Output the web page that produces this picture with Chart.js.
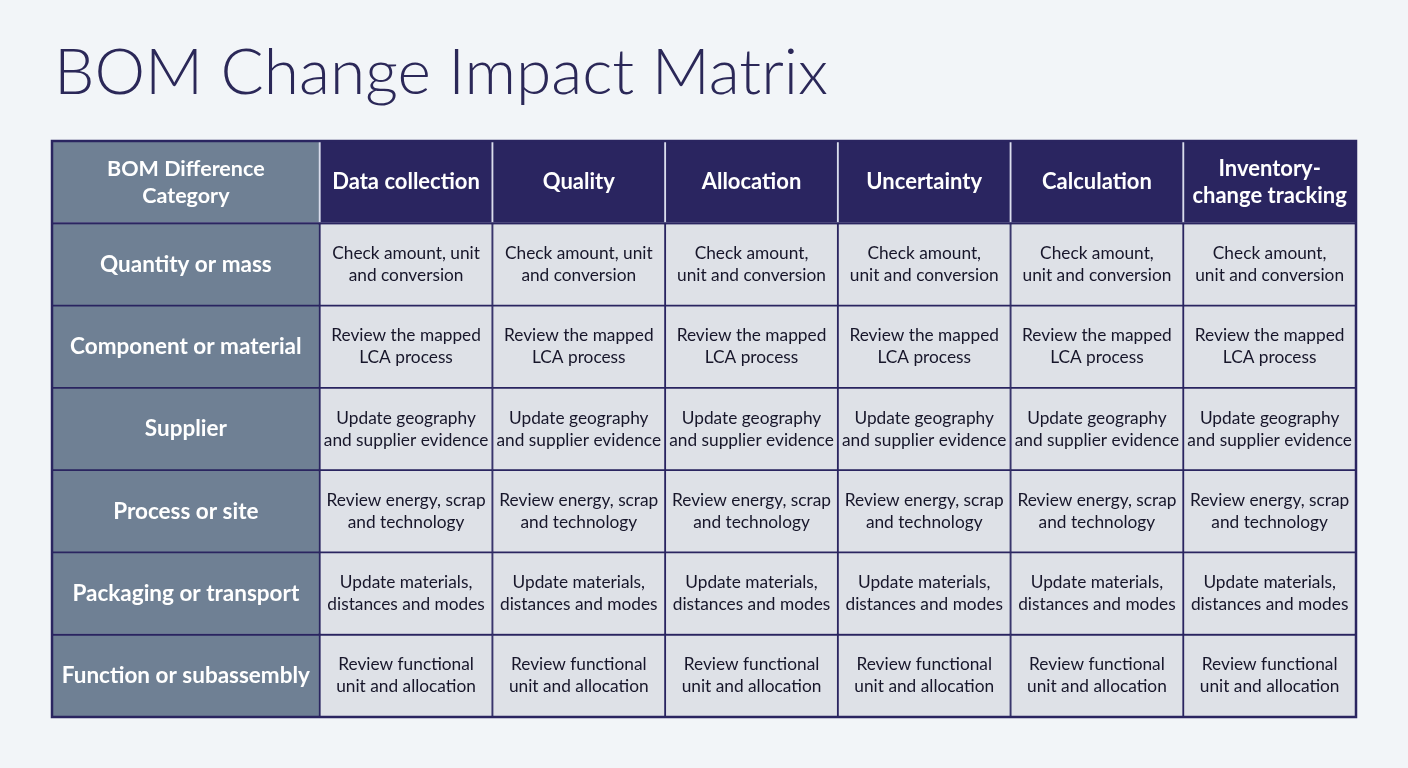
<!DOCTYPE html>
<html>
<head>
<meta charset="utf-8">
<script src="https://cdn.jsdelivr.net/npm/chart.js@4.4.1/dist/chart.umd.min.js"></script>
<style>
  html, body { margin: 0; padding: 0; background: #f2f5f8; }
  #wrap { position: relative; width: 1408px; height: 768px; }
</style>
</head>
<body>
<div id="wrap"><canvas id="c"></canvas></div>
<script>
const title = 'BOM Change Impact Matrix';
const cornerLabel = 'BOM Difference\nCategory';
const columns = ['Data collection', 'Quality', 'Allocation', 'Uncertainty', 'Calculation', 'Inventory-\nchange tracking'];
const rows = ['Quantity or mass', 'Component or material', 'Supplier', 'Process or site', 'Packaging or transport', 'Function or subassembly'];
const rowQuantity = ['Check amount, unit\nand conversion', 'Check amount, unit\nand conversion', 'Check amount,\nunit and conversion', 'Check amount,\nunit and conversion', 'Check amount,\nunit and conversion', 'Check amount,\nunit and conversion'];
const rowComponent = ['Review the mapped\nLCA process', 'Review the mapped\nLCA process', 'Review the mapped\nLCA process', 'Review the mapped\nLCA process', 'Review the mapped\nLCA process', 'Review the mapped\nLCA process'];
const rowSupplier = ['Update geography\nand supplier evidence', 'Update geography\nand supplier evidence', 'Update geography\nand supplier evidence', 'Update geography\nand supplier evidence', 'Update geography\nand supplier evidence', 'Update geography\nand supplier evidence'];
const rowProcess = ['Review energy, scrap\nand technology', 'Review energy, scrap\nand technology', 'Review energy, scrap\nand technology', 'Review energy, scrap\nand technology', 'Review energy, scrap\nand technology', 'Review energy, scrap\nand technology'];
const rowPackaging = ['Update materials,\ndistances and modes', 'Update materials,\ndistances and modes', 'Update materials,\ndistances and modes', 'Update materials,\ndistances and modes', 'Update materials,\ndistances and modes', 'Update materials,\ndistances and modes'];
const rowFunction = ['Review functional\nunit and allocation', 'Review functional\nunit and allocation', 'Review functional\nunit and allocation', 'Review functional\nunit and allocation', 'Review functional\nunit and allocation', 'Review functional\nunit and allocation'];
const cellTexts = [rowQuantity, rowComponent, rowSupplier, rowProcess, rowPackaging, rowFunction];

// layout (not data): relative column spans
const firstColSpan = 1.55;
const NAVY = '#2a2560';
const SLATE = '#6f8094';
const CELL = '#dee1e7';

const yLabels = ['__header__'].concat(rows);
const allCols = [cornerLabel].concat(columns);
const datasets = allCols.map((c, j) => ({
  label: c,
  data: yLabels.map(() => (j === 0 ? firstColSpan : 1)),
  backgroundColor: (ctx) => {
    if (ctx.datasetIndex === 0) return SLATE;
    if (ctx.dataIndex === 0) return NAVY;
    return CELL;
  },
  borderColor: (ctx) => {
    if (ctx.dataIndex === 0) return 'rgba(215,218,235,0.9)';
    return NAVY;
  },
  borderWidth: 1.25,
  borderSkipped: false,
  barPercentage: 1,
  categoryPercentage: 1
}));

const textPlugin = {
  id: 'cellText',
  afterDatasetsDraw(chart) {
    const ctx = chart.ctx;
    const a = chart.chartArea;
    ctx.save();
    ctx.textAlign = 'center';
    ctx.textBaseline = 'middle';
    chart.data.datasets.forEach((ds, j) => {
      const meta = chart.getDatasetMeta(j);
      meta.data.forEach((el, i) => {
        const cx = (el.x + el.base) / 2;
        const cy = el.y;
        let text, font, color, lh;
        if (i === 0) {
          text = allCols[j];
          font = j === 0 ? '700 21.5px Lato' : '700 22px Lato';
          color = '#ffffff';
          lh = 27;
        } else if (j === 0) {
          text = rows[i - 1];
          font = '700 22.5px Lato';
          color = '#ffffff';
          lh = 27;
        } else {
          text = cellTexts[i - 1][j - 1];
          font = '400 17.3px Lato';
          color = '#17162a';
          lh = 22;
        }
        ctx.font = font;
        ctx.fillStyle = color;
        const lines = text.split('\n');
        const y0 = cy - (lines.length - 1) * lh / 2;
        lines.forEach((ln, k) => ctx.fillText(ln, cx, y0 + k * lh));
      });
    });
    // navy line under header row and outer frame
    const hdr = chart.getDatasetMeta(0).data[0];
    const yb = hdr.y + hdr.height / 2;
    ctx.strokeStyle = NAVY;
    ctx.lineWidth = 2;
    ctx.beginPath();
    ctx.moveTo(a.left, yb);
    ctx.lineTo(a.right, yb);
    ctx.stroke();
    ctx.lineWidth = 2.5;
    ctx.strokeRect(a.left, a.top, a.right - a.left, a.bottom - a.top);
    // title
    ctx.textAlign = 'left';
    ctx.textBaseline = 'alphabetic';
    ctx.fillStyle = '#2b2858';
    ctx.font = '300 64px Lato';
    ctx.fillText(title, 54, 94);
    ctx.restore();
  }
};

new Chart(document.getElementById('c'), {
  type: 'bar',
  data: { labels: yLabels, datasets },
  options: {
    indexAxis: 'y',
    responsive: true,
    maintainAspectRatio: false,
    animation: false,
    layout: { padding: { left: 52, right: 52, top: 141, bottom: 51 } },
    scales: {
      x: { stacked: true, min: 0, max: firstColSpan + columns.length, display: false },
      y: { stacked: true, display: false }
    },
    plugins: { legend: { display: false }, tooltip: { enabled: false }, title: { display: false } }
  },
  plugins: [textPlugin]
});
</script>
</body>
</html>
